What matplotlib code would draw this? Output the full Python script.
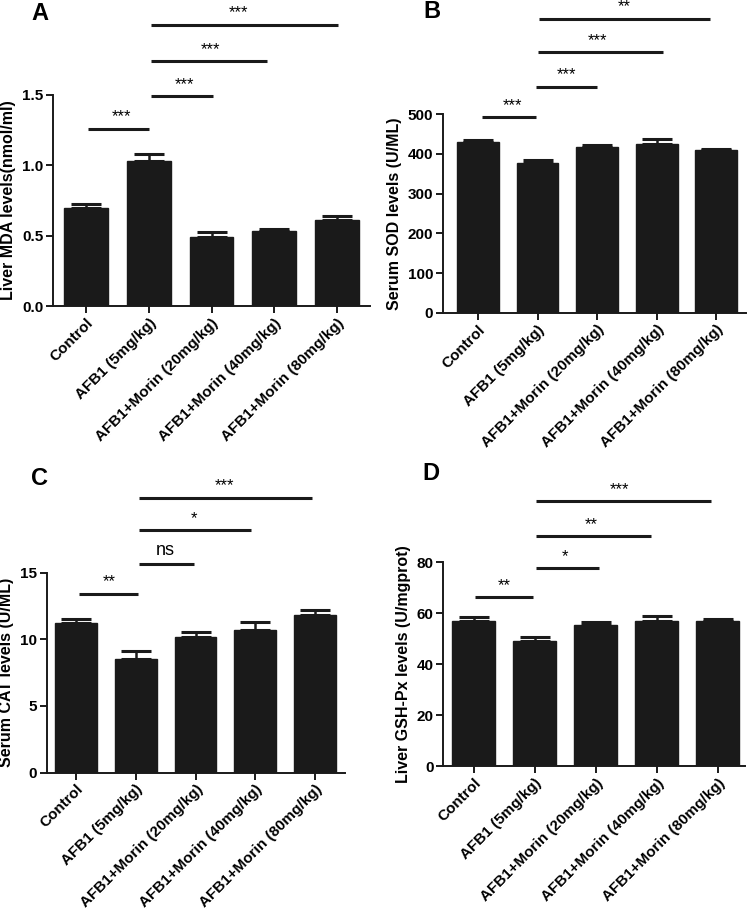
import numpy as np
import matplotlib
matplotlib.use("Agg")
import matplotlib.pyplot as plt

plt.rcParams["font.family"] = ["Liberation Sans", "DejaVu Sans"]

groups = ["Control", "AFB1 (5mg/kg)", "AFB1+Morin (20mg/kg)",
          "AFB1+Morin (40mg/kg)", "AFB1+Morin (80mg/kg)"]

# bar means and upper SEM
mda_mean = [0.694, 1.033, 0.490, 0.531, 0.613]
mda_err = [0.030, 0.047, 0.034, 0.016, 0.027]

sod_mean = [431, 378, 418, 426, 410]
sod_err = [3, 7, 4, 12, 2]

cat_mean = [11.2, 8.5, 10.18, 10.73, 11.83]
cat_err = [0.35, 0.6, 0.4, 0.57, 0.37]

gsh_mean = [57.1, 49.0, 55.3, 57.1, 56.9]
gsh_err = [1.4, 1.8, 1.3, 1.7, 0.9]

# significance brackets: (x start, x end, y level, label)
mda_sig = [(0.03, 1.0, 1.26, "***"), (1.03, 2.03, 1.493, "***"),
           (1.03, 2.89, 1.74, "***"), (1.03, 4.02, 2.0, "***")]
sod_sig = [(0.06, 0.97, 492, "***"), (0.98, 2.0, 570, "***"),
           (1.0, 3.1, 656, "***"), (1.02, 3.9, 741, "**")]
cat_sig = [(0.05, 1.03, 13.43, "**"), (1.06, 1.97, 15.63, "ns"),
           (1.06, 2.92, 18.18, "*"), (1.06, 3.94, 20.63, "***")]
gsh_sig = [(0.02, 0.97, 66.3, "**"), (1.02, 2.06, 77.8, "*"),
           (1.02, 2.91, 90.4, "**"), (1.02, 3.89, 104, "***")]

sig_text_x = {
    "A": [0.57, 1.57, 1.98, 2.43],
    "B": [0.58, 1.48, 2.01, 2.46],
    "C": [0.55, 1.50, 1.98, 2.48],
    "D": [0.50, 1.49, 1.93, 2.39],
}

W, H = 750, 911
fig = plt.figure(figsize=(W / 100, H / 100), dpi=100)


def px_axes(left, right, top, bottom):
    return fig.add_axes([left / W, (H - bottom) / H, (right - left) / W, (bottom - top) / H])


panels = [
    ("A", px_axes(53, 370, 95, 306), mda_mean, mda_err, mda_sig,
     "Liver MDA levels(nmol/ml)", (0, 1.5), [0.0, 0.5, 1.0, 1.5], "{:.1f}", (-0.53, 4.53)),
    ("B", px_axes(443, 746, 114.3, 312.7), sod_mean, sod_err, sod_sig,
     "Serum SOD levels (U/ML)", (0, 500), [0, 100, 200, 300, 400, 500], "{:d}", (-0.59, 4.5)),
    ("C", px_axes(46.7, 345, 572.7, 772.5), cat_mean, cat_err, cat_sig,
     "Serum CAT levels (U/ML)", (0, 15), [0, 5, 10, 15], "{:d}", (-0.49, 4.5)),
    ("D", px_axes(443.3, 745, 562.3, 766), gsh_mean, gsh_err, gsh_sig,
     "Liver GSH-Px levels (U/mgprot)", (0, 80), [0, 20, 40, 60, 80], "{:d}", (-0.50, 4.45)),
]

letter_pos = {"A": (40, 13), "B": (432, 12), "C": (40, 478), "D": (431, 473)}

for letter, ax, mean, err, sig, ylabel, ylim, yticks, fmt, xlim in panels:
    x = np.arange(len(groups))
    ax.bar(x, mean, width=0.7, color="#1a1a1a", edgecolor="#1a1a1a", zorder=2)
    ax.errorbar(x, mean, yerr=[np.zeros(len(mean)), err], fmt="none",
                ecolor="#1a1a1a", elinewidth=1.8, capsize=11, capthick=2.2, zorder=1)
    ax.set_xlim(*xlim)
    ax.set_ylim(*ylim)
    ax.set_yticks(yticks)
    ax.set_yticklabels([fmt.format(t) for t in yticks], fontsize=11, fontweight="bold")
    ax.set_xticks(x)
    ax.set_xticklabels(groups, rotation=45, ha="right", va="top",
                       rotation_mode="anchor", fontsize=11, fontweight="bold")
    ax.set_ylabel(ylabel, fontsize=11.5, fontweight="bold", labelpad=4)
    for s in ["top", "right"]:
        ax.spines[s].set_visible(False)
    for s in ["left", "bottom"]:
        ax.spines[s].set_linewidth(1.4)
        ax.spines[s].set_color("#1a1a1a")
    ax.tick_params(axis="both", direction="out", length=5, width=1.4, color="#1a1a1a", pad=2)

    for (x1, x2, y, lab), tx in zip(sig, sig_text_x[letter]):
        ax.plot([x1, x2], [y, y], color="#1a1a1a", lw=2.2, clip_on=False,
                solid_capstyle="butt")
        if lab == "ns":
            ax.annotate(lab, (tx, y), xytext=(0, 4), textcoords="offset points",
                        ha="center", va="bottom", fontsize=13, annotation_clip=False)
        else:
            ax.annotate(lab, (tx, y), xytext=(0, 3), textcoords="offset points",
                        ha="center", va="bottom", fontsize=12, annotation_clip=False)

    lx, ly = letter_pos[letter]
    fig.text(lx / W, 1 - ly / H, letter, fontsize=17, fontweight="bold",
             ha="center", va="center")

fig.savefig("out.png", dpi=100, facecolor="white")
